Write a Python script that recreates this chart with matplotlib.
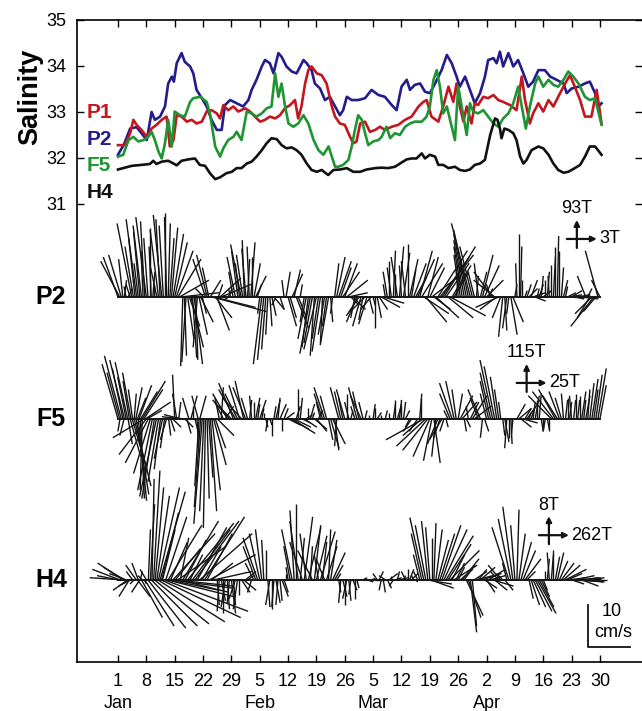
import numpy as np
import matplotlib.pyplot as plt
from matplotlib.collections import LineCollection

plt.rcParams['font.family'] = ['Liberation Sans', 'DejaVu Sans']

# day 0 = 1 Jan (non-leap year)
p1_sal = [(0, 32.28), (1.7, 32.28), (3, 32.54), (3.8, 32.83), (4.6, 32.72), (5.8, 32.61), (7.1, 32.46),
          (8.3, 32.64), (9.5, 32.72), (10.8, 32.83), (12.0, 32.90), (12.8, 32.25), (13.7, 32.39), (14.5, 32.93),
          (15.7, 32.90), (17.0, 32.79), (18.2, 32.83), (19.4, 32.75), (20.7, 32.79), (21.9, 33.01), (23.1, 33.04),
          (24.4, 32.97), (25.2, 32.86), (26.0, 33.15), (27.2, 33.04), (28.5, 33.12), (29.7, 33.01), (31.4, 33.08),
          (32.6, 33.01), (33.8, 32.90), (35.1, 32.79), (36.3, 32.83), (37.5, 32.90), (38.8, 32.86), (40.0, 32.93),
          (41.2, 33.08), (42.5, 33.15), (43.7, 33.26), (44.5, 32.86), (45.3, 33.12), (46.2, 33.62), (47.0, 33.91),
          (47.8, 33.99), (49.1, 33.84), (50.3, 33.80), (51.5, 33.62), (52.8, 33.12), (53.6, 32.90), (54.8, 32.75),
          (56.0, 32.72), (57.3, 32.46), (58.1, 32.32), (58.9, 32.36), (59.8, 32.75), (61.0, 32.79), (62.2, 32.57),
          (63.5, 32.61), (64.7, 32.68), (65.9, 32.61), (67.6, 32.68), (69.2, 32.72), (70.9, 32.83), (72.5, 32.90),
          (74.2, 33.12), (75.4, 33.22), (76.2, 33.26), (77.4, 32.90), (79.1, 32.79), (80.3, 33.12), (81.6, 33.55),
          (82.8, 33.22), (83.6, 33.62), (84.4, 33.12), (85.3, 32.79), (86.1, 33.12), (87.3, 32.75), (88.1, 33.19),
          (88.9, 33.15), (90.2, 33.33), (91.4, 33.30), (92.7, 33.37), (93.9, 33.26), (95.1, 33.22), (96.8, 33.15),
          (98.4, 33.04), (99.7, 33.77), (100.5, 33.26), (101.7, 32.75), (102.5, 32.97), (103.8, 33.19), (105.0, 33.01),
          (106.3, 33.26), (107.5, 33.12), (108.7, 33.33), (110.4, 33.62), (111.6, 33.80), (112.8, 33.55), (114.1, 33.26),
          (115.3, 32.90), (116.9, 32.90), (118.2, 33.48), (119.4, 32.75)]

p2_sal = [(0, 32.07), (1.5, 32.3), (3, 32.64), (4.6, 32.67), (5.8, 32.54), (7.1, 32.39), (8.3, 33.0), (9.1, 32.83),
          (10.4, 32.9), (11.6, 33.12), (12.4, 33.62), (13.3, 33.77), (13.8, 33.66), (14.5, 34.06), (15.7, 34.28),
          (16.5, 34.09), (17.8, 33.99), (18.6, 33.84), (19.4, 33.48), (20.7, 33.30), (21.9, 33.12), (23.1, 32.83),
          (24.4, 32.61), (25.6, 32.61), (26.4, 33.15), (27.7, 33.26), (29.3, 33.19), (30.9, 33.12), (32.2, 33.26),
          (33.0, 33.48), (34.2, 33.70), (35.5, 33.99), (36.3, 34.13), (37.5, 34.06), (38.4, 33.84), (39.6, 34.28),
          (40.4, 34.20), (41.6, 33.99), (42.9, 33.88), (44.1, 33.84), (45.8, 34.13), (46.6, 34.06), (47.8, 33.91),
          (48.6, 33.62), (49.9, 33.51), (51.1, 33.26), (52.3, 33.33), (53.6, 33.12), (54.8, 32.93), (55.6, 33.04),
          (56.5, 33.33), (57.7, 33.26), (59.3, 33.26), (61.0, 33.30), (62.6, 33.48), (64.3, 33.37), (65.9, 33.33),
          (67.6, 33.15), (68.8, 33.04), (70.0, 33.55), (71.3, 33.70), (72.1, 33.48), (73.3, 33.59), (74.6, 33.62),
          (75.8, 33.44), (77.0, 33.41), (78.3, 33.62), (79.9, 33.91), (81.2, 34.24), (82.4, 34.06), (83.6, 33.77),
          (84.4, 33.55), (85.7, 33.77), (86.9, 33.48), (88.1, 33.19), (89.4, 33.41), (90.6, 33.77), (91.4, 34.13),
          (92.7, 34.17), (93.5, 34.06), (94.3, 34.31), (95.1, 33.99), (96.4, 34.28), (97.6, 33.99), (98.8, 34.13),
          (100.1, 33.84), (101.3, 33.55), (102.5, 33.66), (103.8, 33.91), (105.4, 33.91), (106.7, 33.77),
          (108.3, 33.70), (110.0, 33.62), (110.8, 33.41), (112.0, 33.51), (113.7, 33.55), (115.3, 33.62),
          (116.5, 33.66), (117.8, 33.41), (118.6, 33.12), (119.4, 33.19)]

f5_sal = [(0, 32.03), (1.3, 32.07), (2.6, 32.39), (3.8, 32.46), (5.0, 32.36), (6.3, 32.39), (7.5, 32.46), (8.3, 32.57),
          (9.1, 32.39), (10.0, 32.14), (10.8, 31.99), (11.6, 32.32), (12.4, 32.83), (13.3, 32.25), (14.0, 33.01),
          (15.3, 32.93), (16.5, 32.90), (17.8, 33.22), (18.6, 33.30), (20.3, 33.33), (21.9, 33.22), (22.7, 32.97),
          (24.0, 32.25), (25.2, 32.03), (26.0, 32.21), (27.2, 32.39), (28.5, 32.46), (29.3, 32.57), (30.5, 32.39),
          (31.8, 33.01), (33.0, 32.97), (34.2, 32.90), (35.5, 32.97), (36.7, 33.08), (37.9, 33.12), (38.8, 33.84),
          (39.6, 33.33), (40.4, 33.62), (41.2, 33.15), (42.1, 32.75), (43.3, 32.68), (44.5, 32.75), (45.8, 32.93),
          (47.0, 32.75), (48.3, 32.39), (49.5, 32.17), (50.7, 32.07), (52.0, 32.25), (52.8, 32.03), (53.6, 31.81),
          (54.4, 31.81), (55.6, 31.85), (56.9, 31.96), (57.7, 32.25), (58.5, 32.61), (59.3, 32.93), (60.2, 32.83),
          (61.0, 32.54), (61.8, 32.28), (63.0, 32.36), (64.3, 32.39), (65.1, 32.46), (66.3, 32.68), (67.2, 32.43),
          (68.4, 32.54), (69.6, 32.50), (70.9, 32.68), (72.1, 32.75), (73.3, 32.79), (75.0, 32.79), (76.2, 32.90),
          (77.0, 33.12), (77.9, 33.70), (78.7, 33.91), (79.5, 33.55), (80.3, 32.97), (81.2, 33.12), (82.4, 32.68),
          (83.2, 32.39), (84.0, 33.55), (85.3, 32.90), (86.1, 32.50), (86.9, 33.19), (87.7, 33.01), (88.9, 32.97),
          (90.2, 33.04), (91.4, 32.90), (92.7, 32.75), (93.9, 32.68), (95.1, 32.86), (96.4, 32.97), (97.6, 33.19),
          (98.8, 33.55), (99.7, 33.12), (100.7, 32.64), (101.7, 33.12), (103.0, 33.62), (103.8, 33.77), (105.0, 33.55),
          (106.3, 33.70), (107.5, 33.59), (108.7, 33.55), (110.0, 33.70), (111.2, 33.88), (112.4, 33.77),
          (113.7, 33.62), (115.3, 33.33), (116.5, 33.26), (117.8, 33.30), (119.4, 32.72)]

h4_sal = [(0, 31.75), (3.4, 31.83), (5.8, 31.85), (7.9, 31.87), (8.7, 31.94), (9.5, 31.87), (10.8, 31.92), (12.4, 31.94),
          (13.7, 31.88), (14.5, 31.84), (15.7, 31.94), (17.4, 31.97), (19.0, 31.99), (20.2, 31.85), (21.5, 31.83),
          (22.7, 31.67), (24.0, 31.54), (25.2, 31.58), (26.8, 31.67), (28.1, 31.70), (29.3, 31.78), (30.5, 31.78),
          (31.8, 31.88), (33.0, 31.92), (34.2, 32.03), (35.5, 32.17), (36.7, 32.32), (37.9, 32.43), (39.2, 32.41),
          (40.4, 32.28), (41.6, 32.21), (42.9, 32.23), (44.1, 32.17), (45.3, 32.07), (46.6, 31.88), (47.8, 31.74),
          (49.1, 31.70), (50.3, 31.74), (51.9, 31.63), (53.2, 31.74), (54.8, 31.75), (56.5, 31.78), (58.1, 31.70),
          (59.8, 31.70), (61.4, 31.75), (63.5, 31.78), (65.1, 31.79), (66.7, 31.78), (68.4, 31.81), (70.0, 31.90),
          (71.3, 31.97), (72.5, 31.99), (73.7, 31.99), (75.0, 32.10), (75.8, 31.99), (77.0, 32.07), (78.3, 32.03),
          (79.1, 31.85), (80.3, 31.85), (81.6, 31.78), (83.2, 31.81), (84.4, 31.74), (85.7, 31.72), (86.9, 31.75),
          (88.1, 31.85), (89.4, 31.88), (90.6, 31.96), (91.9, 32.50), (93.1, 32.86), (93.7, 32.83), (94.3, 32.64),
          (94.7, 32.43), (95.4, 32.64), (96.4, 32.61), (97.6, 32.54), (98.4, 32.39), (99.3, 32.03), (100.1, 31.88),
          (100.9, 31.96), (102.1, 32.17), (103.8, 32.25), (105.0, 32.21), (106.3, 32.07), (107.5, 31.88),
          (108.7, 31.74), (110.0, 31.68), (111.2, 31.70), (112.8, 31.78), (114.1, 31.85), (115.3, 32.03),
          (116.5, 32.25), (117.8, 32.25), (119.4, 32.07)]

# current sticks: (day, u, v) in cm/s, u to the right, v up
p2_sticks = [
    (0.0, -3.5, 9.5), (0.4, -4.5, 8.5), (0.8, -3.0, 10.0), (1.2, -1.0, 9.0), (1.6, 0.5, 4.0), (2.0, -0.5, 2.5),
    (2.5, 1.0, 2.0), (3.0, -1.0, 3.0), (3.4, -3.5, 17.5), (3.8, -2.0, 12.0), (4.2, -1.5, 14.0), (4.6, -2.5, 18.5),
    (5.0, -1.0, 8.0), (5.4, -1.5, 15.5), (5.8, -2.0, 17.0), (6.2, -0.5, 11.0), (6.6, -1.0, 18.0), (7.0, -2.5, 19.0),
    (7.4, -1.0, 14.0), (7.8, 0.0, 16.5), (8.2, -0.5, 12.0), (8.6, 0.5, 6.0), (9.0, 0.0, 3.0), (9.6, -1.5, 7.0),
    (10.0, -2.0, 16.0), (10.4, -1.0, 18.5), (10.8, -2.0, 19.5), (11.2, -1.0, 17.0), (11.6, 0.0, 20.0),
    (12.0, -0.5, 19.0), (12.4, 0.5, 17.5), (12.8, 1.0, 14.0), (13.2, 1.5, 16.5), (13.6, 2.5, 15.0), (14.0, 3.0, 13.0),
    (14.4, 4.0, 11.0), (14.8, 5.5, 9.0), (15.2, 7.0, 4.0), (15.6, 9.0, 1.0), (16.0, -0.5, -16.5), (16.4, 0.5, -14.0),
    (16.8, -1.0, -15.5), (17.2, 1.5, -10.0), (17.6, 2.5, -7.0), (18.0, 3.0, -12.0), (18.4, 1.0, -14.5),
    (18.8, 2.0, -16.0), (19.2, 0.5, -15.0), (19.6, -1.0, -12.0), (20.0, 2.0, -9.0), (20.4, 3.0, -6.0),
    (20.8, 1.0, -4.0), (21.2, -2.0, 2.0), (21.6, -3.0, 9.0), (22.0, -2.5, 10.0), (22.4, -1.5, 7.0), (22.8, 2.5, 4.0),
    (23.2, 13.0, -3.5), (23.6, 10.0, -2.5), (24.0, 4.0, -5.0), (24.4, 3.0, -8.0), (24.8, 1.0, 3.0), (25.2, 5.0, 4.5),
    (25.6, 7.0, 3.0), (26.0, 1.0, -0.5), (26.6, -0.5, 0.5), (27.2, 1.0, 2.0), (27.8, -0.5, 2.0), (28.4, -1.0, 6.0),
    (29.0, -2.0, 9.5), (29.6, -1.5, 11.0), (30.0, -1.0, 8.0), (30.4, -2.5, 12.5), (30.8, -1.5, 10.0),
    (31.2, -0.5, 13.5), (31.6, -1.0, 11.5), (32.0, 0.5, 9.0), (32.4, -0.5, 12.0), (32.8, 1.0, 13.0), (33.2, 0.0, 9.5),
    (33.6, 1.5, 8.0), (34.0, 2.5, 5.0), (34.4, 1.0, 3.0), (35.0, -0.5, -4.0), (35.5, -2.0, -16.0),
    (36.0, -1.5, -15.0), (36.5, -1.0, -12.5), (37.0, -0.5, -9.0), (37.5, 0.5, -7.0), (38.0, 1.0, -4.5),
    (38.5, 2.5, -3.0), (39.0, -1.0, -2.0), (40.0, 1.0, -3.0), (41.0, -0.5, 4.0), (41.5, 1.0, 6.0), (42.0, 2.0, -7.0),
    (42.5, 1.5, -5.0), (43.0, 2.5, 5.5), (43.5, 1.5, 6.5), (44.0, 3.0, -7.5), (44.5, 2.0, -5.0), (45.0, 0.5, 3.0),
    (46.0, -1.0, -6.0), (46.5, -2.0, -10.0), (47.0, -1.5, -12.0), (47.5, -2.5, -13.5), (48.0, -2.0, -11.0),
    (48.5, -1.0, -14.0), (49.0, -3.0, -12.5), (49.5, -1.5, -10.0), (50.0, -2.0, -13.0), (50.5, -0.5, -11.0),
    (51.0, -1.5, -9.0), (51.5, -1.0, -7.0), (52.0, -2.0, -11.5), (52.5, 0.5, -6.0), (53.0, -0.5, -4.0),
    (53.5, 1.0, 8.0), (54.0, 2.0, 9.5), (54.5, 3.0, 8.5), (55.0, 2.5, 7.0), (55.5, 4.0, 6.0), (56.0, 3.0, 8.0),
    (56.5, 5.0, 4.0), (57.0, 4.5, 1.0), (57.5, 2.0, -2.0), (58.0, 3.0, -3.0), (58.5, -1.0, -5.0), (59.0, -2.5, -6.0),
    (59.5, -3.0, -4.5), (60.0, -2.0, -7.0), (60.5, -1.0, -5.5), (61.0, -3.5, -3.5), (61.5, -2.0, -6.5),
    (62.0, 1.0, -4.0), (62.5, -2.5, -3.0), (63.0, 0.5, -2.0), (63.5, 0.0, -7.5), (64.0, 1.0, -5.0), (64.5, 2.0, -3.0),
    (65.0, 4.5, -2.5), (65.5, 5.0, -1.5), (66.0, -0.5, 3.0), (66.5, -1.0, 6.0), (67.0, 0.0, 8.5), (67.5, -1.0, 7.0),
    (68.0, 0.5, 11.0), (68.5, 0.0, 5.5), (69.0, -1.5, 9.5), (69.5, 1.0, 12.0), (70.0, -0.5, 7.5), (70.5, 1.5, 10.5),
    (71.0, -1.0, 8.5), (71.5, 0.0, 12.5), (72.0, 2.0, 9.0), (72.5, 1.0, 6.5), (73.0, 3.0, 8.0), (73.5, 2.5, 4.5),
    (74.0, 4.0, 9.0), (74.5, 3.0, 11.0), (75.0, 5.0, 8.0), (75.5, 6.0, -4.0), (76.0, 5.0, -6.0), (76.5, 2.5, 9.5),
    (77.0, 3.5, 7.0), (77.5, 6.5, 5.0), (78.0, 4.0, -3.0), (78.5, 5.5, -5.0), (79.0, 7.0, 11.0), (79.5, 8.0, 10.0),
    (80.0, 6.5, 9.5), (80.5, 7.5, 12.0), (81.0, 5.5, 8.0), (81.5, 6.0, -5.0), (82.0, 8.5, -4.5), (82.5, 4.5, 7.5),
    (83.0, 3.5, 6.0), (83.5, 1.0, 8.0), (84.0, -0.5, 6.5), (84.5, -1.5, 10.0), (85.0, -2.0, 12.0),
    (85.5, -2.5, 13.5), (86.0, -3.0, 15.0), (86.5, -3.5, 16.0), (87.0, -4.5, 17.5), (87.5, -3.0, 12.0),
    (88.0, -1.5, 6.0), (88.5, 0.5, 5.0), (89.0, -1.0, 8.0), (89.5, 1.5, 6.0), (90.0, 2.5, 10.0), (90.5, 3.5, 7.5),
    (91.0, 4.0, 4.0), (91.5, 1.0, 2.0), (92.0, -1.0, 3.0), (92.5, -4.5, 6.0), (93.0, -5.0, 4.0), (93.5, -4.0, -3.0),
    (94.0, -5.5, -2.5), (94.5, -2.0, -5.0), (95.0, -1.0, -9.5), (95.5, 0.5, -8.0), (96.0, -1.0, -7.5),
    (96.5, -0.5, -4.0), (97.0, 1.5, -9.0), (97.5, 2.5, -6.0), (98.0, 0.5, 3.0), (98.5, -0.3, 8.0), (99.0, 0.0, 15.0),
    (99.4, 0.3, 12.0), (99.8, 0.0, 4.0), (100.5, 0.5, 1.5), (101.0, 1.0, 3.0), (101.5, 2.0, 2.0), (102.0, 1.5, 4.0),
    (102.5, 3.0, 1.0), (103.0, 2.5, -1.0), (103.5, 0.5, 2.0), (104.0, 1.0, 3.0), (104.5, 0.5, 5.0), (105.0, 2.0, 1.5),
    (105.5, 0.0, 4.0), (106.0, 0.5, 6.0), (106.5, -0.3, 5.0), (107.0, 0.0, 7.5), (107.5, 0.5, 9.5), (108.0, 0.0, 12.0),
    (108.5, 0.3, 14.5), (109.0, 0.0, 11.0), (109.5, 0.5, 7.0), (110.0, 1.0, 4.0), (110.5, 0.5, 2.5), (111.0, 2.0, 1.0),
    (111.5, 3.0, 0.5), (112.0, 2.5, 1.5), (112.5, 3.5, 0.0), (113.0, 2.0, -0.5), (113.5, 3.0, 0.5), (114.0, 1.5, 0.0),
    (114.5, 2.0, 0.5), (115.0, 3.5, -0.5), (115.5, -2.0, 5.0), (116.0, 1.0, 2.0), (116.5, -3.0, -5.0),
    (117.0, -4.0, -4.0), (117.5, -5.5, -7.0), (118.0, -3.0, -3.5), (118.5, -3.0, 11.0), (119.0, -2.0, 4.0)]

f5_sticks = [
    (0.0, -3.8, 13.0), (0.4, -3.0, 11.0), (0.8, -4.0, 15.0), (1.2, -2.5, 12.0), (1.6, -3.5, 14.0), (2.0, -2.0, 10.0),
    (2.4, -3.0, 13.5), (2.8, -1.5, 9.0), (3.2, -2.0, 11.0), (3.6, -1.0, 7.0), (4.0, 0.5, 6.0), (4.4, 1.5, 7.5),
    (4.8, 2.0, 5.0), (5.2, 3.0, 8.0), (5.6, 4.0, 6.5), (6.0, 5.5, 9.0), (6.4, 4.5, 7.0), (6.8, 6.0, 4.0),
    (7.2, 3.5, 2.0), (0.5, -0.5, -3.0), (1.5, -1.0, -4.0), (2.5, 1.0, -6.0), (3.0, 2.5, -9.0), (3.5, 3.5, -12.0),
    (4.0, 4.0, -16.0), (4.5, 3.0, -18.0), (5.0, 2.0, -19.5), (5.5, 1.0, -19.0), (6.0, -0.5, -17.0),
    (6.5, -7.5, -4.5), (7.0, -6.5, -8.5), (7.5, -5.5, -10.5), (8.0, -4.0, -13.0), (8.5, -3.5, -17.0),
    (9.0, -3.0, -19.0), (9.5, -4.0, -18.5), (10.0, -2.5, -15.0), (10.5, -1.5, -12.0), (11.0, -2.0, -9.5),
    (11.5, -1.0, -7.0), (12.0, -1.5, -5.0), (12.5, 0.5, -4.0), (13.0, 1.0, -3.0), (13.5, 2.0, -2.0),
    (14.0, -0.5, 10.5), (14.5, -1.0, 6.0), (15.0, 0.5, 4.0), (15.5, -4.0, 1.0), (16.0, -5.0, 0.5), (16.5, 2.0, -2.0),
    (17.0, 1.0, -3.5), (17.5, -1.5, 5.0), (18.0, 1.5, 5.5), (18.5, 0.0, 3.0), (19.0, 1.0, -4.0), (19.5, 0.5, -8.0),
    (19.8, -1.5, 5.5), (20.0, -1.0, -16.0), (20.2, 1.5, 5.5), (20.4, -1.5, -21.0), (20.8, -2.0, -25.0),
    (21.2, -1.0, -22.0), (21.6, -0.5, -26.0), (22.0, 0.5, -19.0), (22.4, 1.0, -14.0), (22.8, 1.5, -22.0),
    (23.2, 2.0, -17.0), (23.6, 3.0, -11.0), (24.0, 2.5, -7.0), (24.5, 4.0, -4.0), (25.0, -1.0, 5.0), (25.5, 0.5, 7.5),
    (26.0, -2.0, 4.0), (26.5, 2.0, 3.0), (27.0, -3.5, 6.0), (27.5, -4.0, 4.5), (28.0, -3.0, 3.0), (28.5, -3.5, 8.5),
    (29.0, -4.0, 7.0), (29.5, -3.0, 6.0), (30.0, -2.5, 8.0), (30.5, -4.5, 5.0), (31.0, -2.0, 9.0), (31.5, -3.0, 7.5),
    (32.0, -1.5, 5.0), (32.5, 0.5, 4.5), (33.0, -0.5, 5.5), (33.5, 0.0, 4.0), (34.0, 1.0, 5.0), (34.5, 0.5, 3.5),
    (35.0, 1.5, 4.5), (35.5, 0.5, 2.5), (36.0, 0.0, 1.5), (36.5, 0.5, -2.0), (37.0, -0.5, -3.0), (37.5, 0.5, -1.5),
    (38.0, 0.0, -4.0), (38.5, 0.5, 3.0), (39.0, 1.0, 4.5), (39.5, 0.5, 5.0), (40.0, 1.5, 3.5), (40.5, 0.0, -3.0),
    (41.0, 1.0, 2.5), (41.5, 2.0, 1.5), (42.0, 3.0, -1.5), (42.5, 4.5, -2.5), (43.0, 5.5, -3.5), (43.5, 4.0, -2.0),
    (44.0, 1.0, 3.0), (44.5, 0.0, 7.0), (45.0, 0.5, 5.0), (45.5, 2.0, -1.0), (46.0, 3.0, -2.0), (46.5, 1.5, 1.0),
    (47.0, 0.0, 2.5), (47.5, 1.0, 3.5), (48.0, 0.5, 1.5), (48.5, 3.0, -2.5), (49.0, 2.5, -3.0), (49.5, 1.0, 2.0),
    (50.0, -1.0, 4.0), (50.5, -2.0, 6.0), (51.0, -2.5, 7.5), (51.5, -1.5, 5.5), (52.0, 1.0, -5.0), (52.5, 2.0, -7.0),
    (53.0, 3.0, -6.0), (53.5, 1.0, -7.5), (54.0, -0.5, -6.5), (54.5, -2.0, 7.5), (55.0, -1.5, 6.5), (55.5, -1.0, 5.0),
    (56.0, -2.0, 7.0), (56.5, 0.0, 6.0), (57.0, -1.0, 4.0), (57.5, 0.5, 2.0), (58.5, -1.0, 3.0), (59.0, -2.0, 7.5),
    (59.5, -1.5, 6.5), (60.0, -2.5, 5.5), (60.5, -1.0, 4.0), (61.0, 0.5, 2.0), (62.0, 0.0, 1.0), (63.0, 0.5, 3.5),
    (63.5, 0.0, 2.5), (64.0, 1.0, 1.5), (65.0, 0.0, 1.0), (66.0, 0.5, 2.0), (67.0, 0.0, 1.5), (68.0, 0.5, 3.5),
    (68.5, 0.0, 4.5), (69.0, 1.0, 3.5), (69.5, 0.5, 4.5), (70.0, 0.0, 3.0), (70.5, 0.5, 4.0), (71.0, 1.0, 2.0),
    (72.0, -1.0, -2.0), (72.5, -2.0, -3.0), (74.0, -2.0, -3.0), (74.5, 0.5, 6.0), (74.8, 0.0, 5.0),
    (75.0, -4.5, -4.0), (75.5, -9.0, -5.0), (76.0, -7.0, -6.5), (76.5, -6.0, -7.5), (77.0, -4.0, -9.0),
    (77.5, -2.0, -10.0), (78.0, 1.5, -10.5), (78.5, -1.0, -9.0), (79.0, -2.5, -6.0), (79.5, -1.5, -4.5),
    (80.0, -3.0, -5.0), (80.5, -1.0, -3.0), (81.0, 0.5, -2.0), (81.5, -1.0, 2.0), (82.0, -2.5, 6.0),
    (82.5, -3.0, 8.5), (83.0, -2.0, 9.0), (83.5, -1.0, 7.0), (84.0, 1.0, 6.0), (84.5, 3.0, 5.5), (85.0, 3.5, 4.0),
    (85.5, 0.5, -3.0), (86.0, 1.0, -2.0), (86.5, -0.5, 3.0), (87.0, 2.0, 4.0), (87.5, 3.5, 5.5), (88.0, 4.0, 3.0),
    (89.0, -2.0, 5.0), (89.5, -3.0, 7.0), (90.0, -0.5, -4.5), (90.5, 1.0, -3.0), (91.0, -1.5, 6.0),
    (91.5, -2.0, 9.0), (92.0, -2.5, 11.0), (92.5, -3.0, 14.0), (93.0, -2.5, 12.5), (93.5, -1.5, 10.0),
    (94.0, -1.0, 7.0), (94.5, -0.5, 4.0), (95.0, 0.5, -4.0), (95.5, 1.0, -5.5), (96.0, -0.5, -7.0), (96.5, 0.0, -4.5),
    (97.0, 0.3, -6.0), (97.5, -0.3, -3.5), (98.5, 2.0, 3.5), (99.0, 3.0, 2.5), (99.5, 2.5, -2.0), (100.0, 3.5, -1.0),
    (100.5, 1.5, 2.5), (101.0, 2.5, 3.5), (101.5, 0.5, 1.5), (102.0, 1.0, 3.0), (102.5, 0.5, 4.0), (103.0, 1.0, 5.5),
    (103.5, 0.0, 4.5), (104.0, 0.5, 6.0), (104.5, 0.5, -3.0), (105.0, 0.0, -2.5), (105.5, -0.5, -3.0),
    (106.0, 0.5, -2.5), (106.5, 0.0, -3.0), (107.0, -5.5, 5.5), (107.5, -5.0, 6.5), (108.0, -4.0, 7.0),
    (108.5, -3.5, 5.5), (109.0, -2.5, 6.5), (109.5, -1.5, 5.0), (110.0, -0.5, 6.0), (110.5, 0.5, 4.5),
    (111.0, 0.0, 5.0), (111.5, 0.5, 4.0), (112.0, -0.5, 5.5), (112.5, 0.5, 4.5), (113.0, 0.0, 6.0), (113.5, 0.5, 4.5),
    (114.0, 0.0, 5.5), (114.5, 1.0, 6.5), (115.0, 0.5, 4.5), (115.5, 1.0, 5.5), (116.0, 0.5, 7.0), (116.5, 1.0, 8.5),
    (117.0, 1.5, 9.5), (117.5, 1.0, 7.0), (118.0, 1.5, 10.5), (118.5, 2.0, 12.0), (119.0, 1.5, 8.0)]

h4_sticks = [
    (0.0, -5.0, 1.0), (0.4, -6.5, 2.5), (0.8, -7.5, 0.5), (1.2, -6.0, 4.0), (1.6, -5.0, 3.0), (2.0, -4.0, 1.5),
    (2.4, -3.5, -2.5), (2.8, -2.5, -4.0), (3.2, -3.0, -1.5), (3.6, -1.5, 2.0), (4.0, -1.0, -1.0), (4.5, -2.5, 3.5),
    (5.0, -1.5, 4.0), (5.5, 0.5, 2.0), (6.0, -1.0, 1.0), (6.5, 0.5, -1.0), (7.0, -1.5, 2.5), (7.5, 0.5, 12.0),
    (8.0, 1.0, 18.0), (8.4, 0.5, 24.0), (8.8, 1.5, 26.0), (9.2, 2.0, 22.0), (9.6, 3.0, 20.0), (10.0, 5.0, 22.0),
    (10.4, 6.0, 21.0), (10.8, 4.0, 16.0), (4.8, 3.0, -4.0), (5.4, -2.0, -3.0), (5.8, 5.0, -9.0), (6.6, 7.0, -11.0),
    (7.4, 9.0, -11.5), (8.2, 11.0, -11.0), (9.0, 13.0, -10.5), (9.8, 16.0, -10.0), (10.6, 19.0, -9.0),
    (11.4, 20.0, -7.5), (12.0, 16.0, -4.0), (12.6, 12.0, -2.5), (13.0, 15.0, -2.0), (14.0, 14.0, -1.5),
    (15.0, 12.0, -3.0), (11.0, 3.0, 12.0), (11.8, 5.0, 15.0), (12.4, 8.0, 13.0), (13.0, 4.0, 9.0),
    (13.6, 10.0, 11.0), (14.2, 6.0, 7.5), (14.8, 11.5, 8.0), (15.4, 2.0, 10.0), (16.0, 8.5, 14.0), (16.6, 5.0, 9.5),
    (17.2, 11.0, 13.5), (17.8, 3.0, 6.0), (18.4, 9.0, 12.0), (19.0, 10.5, 14.0), (19.6, 7.0, 12.5),
    (20.2, 12.5, 11.0), (20.8, 4.5, 8.0), (21.4, 9.5, 15.0), (22.0, 6.0, 11.0), (22.6, 11.0, 6.0), (23.2, 5.0, 4.0),
    (23.8, 9.0, 2.0), (24.5, 0.5, -6.0), (25.0, -0.5, -7.5), (25.5, 1.0, -5.0), (26.0, 0.0, -8.0), (26.5, -1.0, -6.5),
    (27.0, 0.5, -7.0), (27.5, -0.5, -5.5), (28.0, 1.0, -8.0), (28.5, 0.5, -6.0), (29.0, -1.5, -4.5),
    (29.5, -1.0, -7.0), (30.0, 0.0, -3.5), (30.5, 2.0, -3.0), (31.0, 3.0, -2.5), (31.5, 2.5, 2.0), (32.0, 1.5, 1.0),
    (33.0, -1.0, -3.0), (33.5, -2.0, 4.0), (34.0, -3.0, 8.0), (34.5, -3.5, 10.0), (35.0, -2.5, 11.0),
    (35.5, -1.5, 12.0), (36.0, -0.5, 9.5), (36.5, 0.0, 7.0), (37.0, 0.5, -6.5), (37.5, -1.0, -6.0), (38.0, 0.0, -7.0),
    (38.5, -0.5, -6.5), (39.0, 1.0, -5.5), (39.5, -0.5, -6.0), (40.0, 0.5, -5.0), (40.5, 1.5, -4.0), (41.0, 1.0, -3.0),
    (41.5, 0.0, 1.5), (42.0, -0.5, 3.0), (42.5, -1.5, 8.0), (43.0, -2.5, 12.0), (43.5, -1.0, 16.5), (44.0, 0.0, 18.0),
    (44.5, -2.0, 14.0), (45.0, 1.0, 10.0), (45.5, -3.0, 9.0), (46.0, 2.0, 15.0), (46.5, -1.5, 11.0),
    (47.0, 3.0, 12.5), (47.5, 0.5, 8.0), (48.0, -3.5, 7.0), (48.5, 1.5, 13.0), (49.0, 2.5, 10.5), (49.5, -1.0, 6.0),
    (50.0, 3.5, 11.5), (50.5, 1.0, 9.0), (51.0, -2.0, 5.0), (51.5, 2.5, 8.0), (52.0, 0.5, 12.0), (52.5, 1.5, 9.5),
    (53.0, 3.0, 6.5), (53.5, 2.0, 3.5), (54.0, 1.0, 1.5), (54.5, 0.5, -3.0), (55.0, -0.5, -5.5), (55.5, 1.0, -4.0),
    (56.0, 0.0, -6.0), (56.5, -1.0, -4.5), (57.0, 0.5, -5.0), (57.5, -0.5, -3.5), (58.0, 1.0, -2.5),
    (58.5, 0.0, -4.5), (59.0, 0.5, -2.0), (60.5, 1.0, 0.5), (61.5, 1.5, -0.5), (62.5, 1.0, 0.3), (63.5, 2.0, 0.0),
    (64.0, -1.0, 1.5), (64.5, 1.0, 2.0), (65.0, -0.5, -2.5), (65.5, 0.5, -3.0), (66.0, -1.5, 1.0), (66.5, 1.0, -2.0),
    (67.0, 2.0, 1.5), (67.5, 0.0, 1.0), (68.0, -1.0, -1.5), (68.5, 1.5, 0.5), (69.0, 0.5, 2.0), (69.5, 2.0, 0.5),
    (70.5, 0.5, 1.0), (71.0, -1.0, 2.0), (71.5, 0.0, 2.5), (72.0, 1.0, 2.5), (72.5, 1.5, 1.5), (73.0, -0.5, 1.0),
    (73.5, 0.5, -0.5), (74.0, -1.0, 2.0), (74.5, -1.5, 6.0), (75.0, -2.5, 11.0), (75.5, -3.3, 14.8),
    (76.0, -2.5, 13.0), (76.5, -1.5, 14.0), (77.0, -1.0, 12.5), (77.5, 0.0, 10.0), (78.0, 0.5, 13.5),
    (78.5, 1.5, 12.0), (79.0, 2.5, 9.5), (79.5, 3.5, 11.0), (80.0, 4.5, 13.0), (80.5, 5.5, 12.0), (81.0, 6.5, 10.5),
    (81.5, 5.5, 8.5), (82.0, 7.0, 7.0), (82.5, 3.0, 6.0), (83.0, 5.5, 3.5), (83.5, 2.0, 4.0), (76.2, 6.0, -1.0),
    (77.2, 5.5, -2.0), (84.0, 1.5, 3.0), (84.5, 3.0, 2.5), (85.0, 4.0, 5.0), (85.5, 2.5, 3.5), (86.0, 4.0, -8.5),
    (86.5, 3.0, -9.0), (87.0, 1.5, -12.5), (87.5, 1.0, -11.0), (88.0, 3.0, 2.0), (88.5, 4.0, 1.0), (89.0, 2.0, 2.5),
    (89.5, 3.5, 3.0), (90.0, 4.5, 1.5), (90.5, 3.0, -2.0), (91.0, 2.0, -3.0), (91.5, 4.0, 2.5), (92.0, 3.5, 1.0),
    (92.5, 5.0, -1.5), (93.0, 3.0, -2.5), (94.0, -2.0, 2.0), (94.5, -3.0, 3.5), (95.0, -1.5, 1.5), (95.5, 2.0, -2.5),
    (96.0, -1.0, 4.0), (96.5, -4.0, 12.5), (97.0, -3.0, 14.5), (97.5, -2.4, 17.4), (98.0, -1.0, 13.0),
    (98.5, 0.5, 16.7), (99.0, 1.5, 11.0), (99.5, 2.5, 9.0), (100.0, 3.0, 7.0), (100.5, 3.8, 5.0), (101.0, 2.0, 2.0),
    (101.5, 1.0, -4.5), (102.0, 2.0, -6.0), (102.5, 3.0, -6.5), (103.0, 4.0, -7.5), (103.5, 4.5, -8.0),
    (104.0, 3.5, -6.5), (104.5, 2.0, -4.0), (105.0, 1.0, -2.5), (105.5, 0.0, 2.0), (106.0, 0.5, 5.0),
    (106.5, -0.5, 6.5), (107.0, 0.5, 6.0), (107.5, 0.0, 7.0), (108.0, 1.0, 5.5), (108.5, 1.5, 6.5), (109.0, 2.0, 4.5),
    (109.5, 3.0, 4.0), (110.0, 4.0, 3.5), (110.5, 5.0, 2.5), (111.0, 3.5, 1.5), (111.5, 4.0, 0.5), (112.0, 3.0, -1.0),
    (112.5, 5.0, 0.0), (113.0, 4.5, 1.0), (113.5, 6.0, -0.5), (114.0, 5.0, 0.5), (114.5, 4.0, -1.5), (115.0, 5.5, 0.0),
    (115.5, 3.0, 0.5), (116.0, 4.0, -0.5), (116.5, 2.5, 0.0), (117.0, 3.0, 0.5), (117.5, 2.0, -0.5),
    (118.0, 1.5, 0.0), (118.5, 1.0, 0.0)]

sal_colors = {'P1': '#c3161f', 'P2': '#231c8a', 'F5': '#1f9433', 'H4': '#111111'}
tick_days = np.arange(0, 120, 7)
tick_labels = ['1\nJan', '8', '15', '22', '29', '5\nFeb', '12', '19', '26', '5\nMar', '12', '19', '26',
               '2\nApr', '9', '16', '23', '30']

# fixed geometry: 1 day = 4.05 px, 1 salinity unit = 46 px, 10 cm/s = 42 px
PX_DAY = 4.05
PX_UNIT = 46.0
SX = 4.2 / PX_DAY
SY = 4.2 / PX_UNIT

fig = plt.figure(figsize=(6.42, 7.11), dpi=100)
ax = fig.add_axes([77 / 642, 49 / 711, 565 / 642, 642 / 711])
ax.set_xlim(-10.12, -10.12 + 565 / PX_DAY)
ax.set_ylim(35 - 642 / PX_UNIT, 35)

for name, data in [('P2', p2_sal), ('P1', p1_sal), ('F5', f5_sal), ('H4', h4_sal)]:
    a = np.array(data)
    ax.plot(a[:, 0], a[:, 1], color=sal_colors[name], lw=1.9, solid_joinstyle='round')

label_y = {'P1': 32.98, 'P2': 32.40, 'F5': 31.83, 'H4': 31.24}
for name, yy in label_y.items():
    ax.text(-7.7, yy, name, color=sal_colors[name], fontsize=15, fontweight='bold', ha='left', va='center')


def draw_sticks(data, base):
    a = np.array(data)
    d, u, v = a[:, 0], a[:, 1], a[:, 2]
    start = np.column_stack([d, np.full_like(d, base)])
    end = np.column_stack([d + u * SX, base + v * SY])
    ax.add_collection(LineCollection(np.stack([start, end], axis=1), colors='#151515', linewidths=1.0))
    ax.plot([0, 119], [base, base], color='#151515', lw=1.4)


def compass(x, y, up, right):
    kw = dict(arrowstyle='-|>', lw=1.6, color='#111111', mutation_scale=8, shrinkA=0, shrinkB=0)
    ax.annotate('', xy=(x, y + 19 / PX_UNIT), xytext=(x, y - 9 / PX_UNIT), arrowprops=kw)
    ax.annotate('', xy=(x + 20 / PX_DAY, y), xytext=(x - 10 / PX_DAY, y), arrowprops=kw)
    ax.text(x, y + 30 / PX_UNIT, up, ha='center', va='center', fontsize=13)
    ax.text(x + 22 / PX_DAY, y, right, ha='left', va='center', fontsize=13)


bases = {'P2': 28.98, 'F5': 26.33, 'H4': 22.83}
draw_sticks(p2_sticks, bases['P2'])
draw_sticks(f5_sticks, bases['F5'])
draw_sticks(h4_sticks, bases['H4'])

compass(113.3, 30.24, '93T', '3T')
compass(100.9, 27.11, '115T', '25T')
compass(106.4, 23.80, '8T', '262T')

# scale bar 10 cm/s
sb_x, sb_y = 116.0, 21.37
ax.plot([sb_x, sb_x, sb_x + 10 * SX], [sb_y + 10 * SY, sb_y, sb_y], color='#111111', lw=1.3)
ax.text(122.0, 22.15, '10', ha='center', va='center', fontsize=13)
ax.text(122.4, 21.68, 'cm/s', ha='center', va='center', fontsize=13)

for name, b in bases.items():
    fig.text(51 / 642, (711 - (35 - b) * PX_UNIT - 20) / 711, name, fontsize=18, fontweight='bold',
             ha='center', va='center')

fig.text(30 / 642, 1 - 97 / 711, 'Salinity', rotation=90, fontsize=19.5, fontweight='bold',
         ha='center', va='center')

ax.set_xticks(tick_days)
ax.set_xticklabels(tick_labels)
for lbl in ax.get_xticklabels():
    lbl.set_linespacing(1.35)
ax.set_yticks([31, 32, 33, 34, 35])
ax.tick_params(axis='x', direction='in', top=True, length=5, width=1, labelsize=13, pad=8)
ax.tick_params(axis='y', direction='in', right=True, length=5, width=1, labelsize=13, pad=8)
ax.spines['right'].set_visible(False)
for s in ['left', 'top', 'bottom']:
    ax.spines[s].set_linewidth(1.2)

fig.savefig('out.png', dpi=100)
